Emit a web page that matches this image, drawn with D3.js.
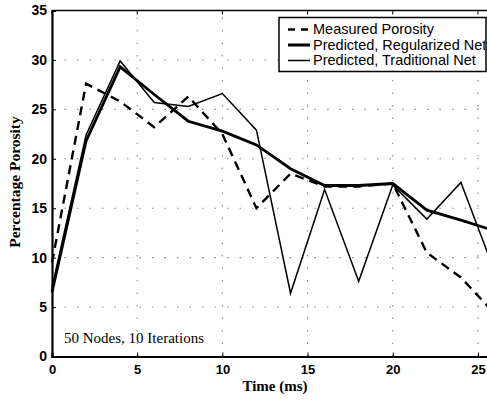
<!DOCTYPE html>
<html>
<head>
<meta charset="utf-8">
<script src="https://cdn.jsdelivr.net/npm/d3@7"></script>
<style>
  body { margin: 0; background: #fff; }
  svg { display: block; }
</style>
</head>
<body>
<div class="box"></div>
<script>
// DATA
const times = [0, 2, 4, 6, 8, 10, 12, 14, 16, 18, 20, 22, 24, 26];
const measured = [9.5, 27.6, 25.8, 23.2, 26.3, 22.5, 15, 18.5, 17.2, 17.2, 17.5, 10.5, 8, 4.3];
const regularized = [6.5, 21.8, 29.3, 26.5, 23.8, 22.8, 21.4, 19, 17.3, 17.3, 17.5, 14.8, 13.8, 12.7];
const traditional = [7, 22.4, 29.9, 25.7, 25.3, 26.6, 22.9, 6.4, 16.9, 7.6, 17.35, 13.9, 17.6, 8.5];
const xTicks = [0, 5, 10, 15, 20, 25];
const yTicks = [0, 5, 10, 15, 20, 25, 30, 35];
const legendLabels = ['Measured Porosity', 'Predicted, Regularized Net', 'Predicted, Traditional Net'];

// SETUP
const dims = {width: 487, height: 401};
const margin = {left: 52, top: 10.5, right: 495, bottom: 356.5}; // plot box edges

const svg = d3.select('.box')
              .append('svg')
              .attr('width', dims.width)
              .attr('height', dims.height);

const x = d3.scaleLinear().domain([0, 26]).range([margin.left, margin.right]);
const y = d3.scaleLinear().domain([0, 35]).range([margin.bottom, margin.top]);

// dotted grid (sparse, like the scan)
const grid = svg.append('g')
                .attr('stroke', '#888')
                .attr('stroke-width', 1.1)
                .attr('stroke-dasharray', '1.5,11');

grid.selectAll('line.gx')
    .data(xTicks.slice(1))
    .enter().append('line')
    .attr('x1', d => x(d)).attr('x2', d => x(d))
    .attr('y1', margin.bottom).attr('y2', margin.top);

grid.selectAll('line.gy')
    .data(yTicks.slice(1, -1))
    .enter().append('line')
    .attr('x1', margin.left).attr('x2', margin.right)
    .attr('y1', d => y(d)).attr('y2', d => y(d));

// axes
const xAxis = d3.axisBottom(x).tickValues(xTicks).tickSize(-4).tickPadding(8);
const yAxis = d3.axisLeft(y).tickValues(yTicks).tickSize(-4).tickPadding(5);

const gx = svg.append('g')
              .attr('transform', `translate(0, ${margin.bottom})`)
              .call(xAxis);
const gy = svg.append('g')
              .attr('transform', `translate(${margin.left}, 0)`)
              .call(yAxis);

[gx, gy].forEach(g => {
  g.select('.domain').attr('stroke', '#000').attr('stroke-width', 2.2);
  g.selectAll('.tick line').attr('stroke', '#000').attr('stroke-width', 1);
  g.selectAll('text')
   .attr('fill', '#000')
   .style('font-family', '"Liberation Sans", Arial, sans-serif')
   .style('font-weight', 'bold')
   .style('font-size', '13px');
});
gy.selectAll('text').style('font-size', '14px');

// top border with ticks
svg.append('line')
   .attr('x1', margin.left).attr('x2', margin.right)
   .attr('y1', margin.top).attr('y2', margin.top)
   .attr('stroke', '#000').attr('stroke-width', 1.3);
svg.selectAll('line.topTick')
   .data(xTicks)
   .enter().append('line')
   .attr('x1', d => x(d)).attr('x2', d => x(d))
   .attr('y1', margin.top).attr('y2', margin.top + 4)
   .attr('stroke', '#000');

// lines
const line = d3.line().x((d, i) => x(times[i])).y(d => y(d));

const plot = svg.append('g');
plot.append('path')
    .datum(traditional)
    .attr('d', line)
    .attr('fill', 'none')
    .attr('stroke', '#000')
    .attr('stroke-width', 1.5);

plot.append('path')
    .datum(regularized)
    .attr('d', line)
    .attr('fill', 'none')
    .attr('stroke', '#000')
    .attr('stroke-width', 2.8);

plot.append('path')
    .datum(measured)
    .attr('d', line)
    .attr('fill', 'none')
    .attr('stroke', '#000')
    .attr('stroke-width', 2.4)
    .attr('stroke-dasharray', '9,6');

// legend
const lx = 279, ly = 17.5, lw = 207, lh = 54;
svg.append('clipPath').attr('id', 'legclip')
   .append('rect').attr('x', lx).attr('y', ly).attr('width', lw - 1).attr('height', lh);

const legend = svg.append('g');
legend.append('rect')
      .attr('x', lx).attr('y', ly).attr('width', lw).attr('height', lh)
      .attr('fill', '#fff')
      .attr('stroke', '#000')
      .attr('stroke-width', 1.5);

const legStyles = [
  {w: 2.4, dash: '7,6'},
  {w: 2.8, dash: null},
  {w: 1.5, dash: null}
];

const rowsG = legend.append('g').attr('clip-path', 'url(#legclip)');
const rows = rowsG.selectAll('g.row')
                  .data(legendLabels)
                  .enter().append('g')
                  .attr('transform', (d, i) => `translate(0, ${ly + 12 + i * 15.5})`);

rows.append('line')
    .attr('x1', 288).attr('x2', 310)
    .attr('y1', 0).attr('y2', 0)
    .attr('stroke', '#000')
    .attr('stroke-width', (d, i) => legStyles[i].w)
    .attr('stroke-dasharray', (d, i) => legStyles[i].dash);

rows.append('text')
    .attr('x', 313)
    .attr('y', 4.5)
    .style('font-family', '"Liberation Sans", Arial, sans-serif')
    .style('font-size', '14.5px')
    .text(d => d);

// annotation
svg.append('text')
   .attr('x', 64).attr('y', 343)
   .style('font-family', '"Liberation Serif", "Times New Roman", serif')
   .style('font-size', '15px')
   .text('50 Nodes, 10 Iterations');

// axis titles
svg.append('text')
   .attr('x', 275).attr('y', 391)
   .attr('text-anchor', 'middle')
   .style('font-family', '"Liberation Serif", "Times New Roman", serif')
   .style('font-weight', 'bold')
   .style('font-size', '15px')
   .text('Time (ms)');

svg.append('text')
   .attr('transform', 'translate(20, 182) rotate(-90)')
   .attr('text-anchor', 'middle')
   .style('font-family', '"Liberation Serif", "Times New Roman", serif')
   .style('font-weight', 'bold')
   .style('font-size', '15.5px')
   .text('Percentage Porosity');
</script>
</body>
</html>
